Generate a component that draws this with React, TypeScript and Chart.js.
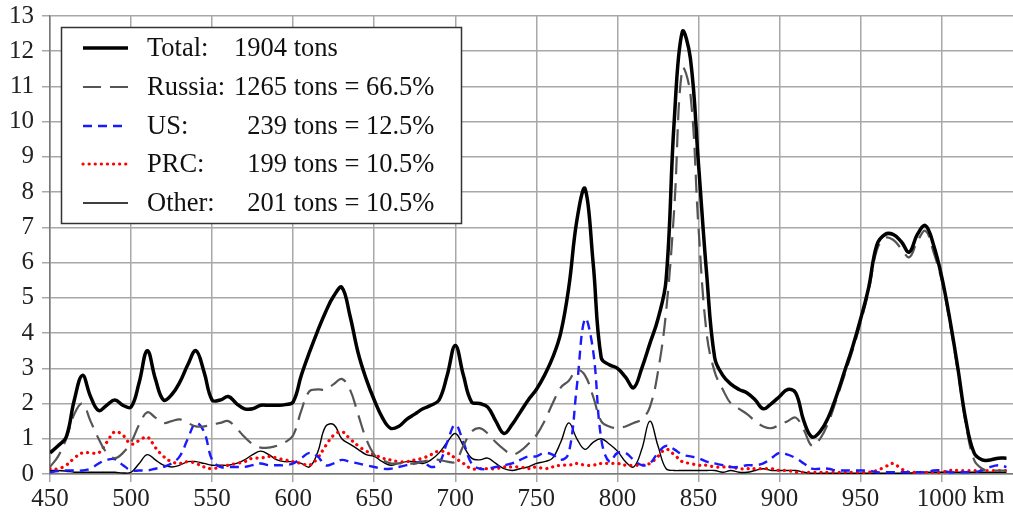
import React, { useEffect, useRef } from 'react';
import { Chart, registerables } from 'chart.js';

Chart.register(...registerables);

const km = [
  450, 455, 460, 465, 470, 475, 480, 485, 490, 495,
  500, 505, 510, 515, 520, 525, 530, 535, 540, 545,
  550, 555, 560, 565, 570, 575, 580, 585, 590, 595,
  600, 605, 610, 615, 620, 625, 630, 635, 640, 645,
  650, 655, 660, 665, 670, 675, 680, 685, 690, 695,
  700, 705, 710, 715, 720, 725, 730, 735, 740, 745,
  750, 755, 760, 765, 770, 775, 780, 785, 790, 795,
  800, 805, 810, 815, 820, 825, 830, 835, 840, 845,
  850, 855, 860, 865, 870, 875, 880, 885, 890, 895,
  900, 905, 910, 915, 920, 925, 930, 935, 940, 945,
  950, 955, 960, 965, 970, 975, 980, 985, 990, 995,
  1000, 1005, 1010, 1015, 1020, 1025, 1030, 1035, 1040,
];

const totalTons = [
  0.6, 0.8, 1.05, 2.1, 2.8, 2.2, 1.8, 1.95, 2.1, 1.95,
  1.9, 2.6, 3.5, 2.7, 2.1, 2.25, 2.6, 3.1, 3.5, 2.9,
  2.1, 2.1, 2.2, 2.0, 1.85, 1.85, 1.95, 1.95, 1.95, 1.97,
  2.05, 2.8, 3.45, 4.05, 4.6, 5.05, 5.3, 4.5, 3.45, 2.7,
  2.1, 1.6, 1.3, 1.35, 1.55, 1.7, 1.85, 1.95, 2.1, 2.8,
  3.65, 2.8, 2.05, 2.0, 1.9, 1.5, 1.15, 1.4, 1.75, 2.1,
  2.4, 2.8, 3.3, 4.0, 5.3, 7.2, 8.1, 6.0, 3.3, 3.1,
  3.0, 2.75, 2.45, 3.0, 3.7, 4.4, 5.5, 10.0, 12.55, 11.8,
  8.8, 5.7, 3.3, 2.8, 2.55, 2.4, 2.3, 2.1, 1.85, 2.0,
  2.2, 2.4, 2.3, 1.5, 1.05, 1.2, 1.6, 2.2, 2.9, 3.6,
  4.4, 5.3, 6.5, 6.8, 6.8, 6.6, 6.3, 6.8, 7.05, 6.5,
  5.6, 4.4, 3.0, 1.5, 0.6, 0.4, 0.4, 0.45, 0.45,
];

const russiaTons = [
  0.2, 0.5, 1.0, 1.7, 2.0, 1.5, 1.0, 0.6, 0.45, 0.6,
  0.9, 1.4, 1.75, 1.6, 1.45, 1.5, 1.55, 1.45, 1.35, 1.35,
  1.4, 1.45, 1.5, 1.3, 1.05, 0.85, 0.75, 0.75, 0.8, 0.9,
  1.1, 1.8, 2.35, 2.4, 2.4, 2.55, 2.7, 2.4, 1.7, 1.0,
  0.55, 0.4, 0.3, 0.3, 0.3, 0.3, 0.35, 0.4, 0.4, 0.35,
  0.35, 0.8, 1.2, 1.3, 1.15, 0.9, 0.7, 0.55, 0.65, 0.85,
  1.1, 1.5, 2.0, 2.45, 2.65, 2.95, 2.8, 2.2, 1.5, 1.35,
  1.3, 1.35, 1.45, 1.55, 1.9, 2.9, 4.6, 7.5, 11.5, 10.8,
  7.0, 4.0, 2.9, 2.4, 2.0, 1.85, 1.7, 1.5, 1.35, 1.3,
  1.4, 1.5, 1.6, 1.25, 0.8, 1.0, 1.45, 2.1, 2.8, 3.5,
  4.3, 5.2, 6.35, 6.7, 6.65, 6.4, 6.15, 6.6, 6.9, 6.3,
  5.5, 4.3, 2.9, 1.4, 0.4, 0.15, 0.1, 0.1, 0.1,
];

const usTons = [
  0.05, 0.08, 0.1, 0.1, 0.1, 0.15, 0.3, 0.4, 0.42, 0.25,
  0.1, 0.1, 0.1, 0.15, 0.2, 0.3, 0.5, 1.0, 1.45, 1.2,
  0.4, 0.2, 0.2, 0.2, 0.2, 0.25, 0.3, 0.25, 0.25, 0.25,
  0.3, 0.45, 0.6, 0.5, 0.25, 0.3, 0.4, 0.35, 0.3, 0.25,
  0.2, 0.15, 0.15, 0.2, 0.25, 0.3, 0.35, 0.2, 0.3, 0.9,
  1.4, 0.9, 0.3, 0.15, 0.15, 0.2, 0.25, 0.3, 0.4, 0.5,
  0.5, 0.6, 0.55, 0.4, 0.6, 2.5, 4.4, 3.5, 1.0, 0.35,
  0.6, 0.6, 0.4, 0.25, 0.3, 0.6, 0.8, 0.7, 0.55, 0.5,
  0.45, 0.35, 0.3, 0.25, 0.2, 0.2, 0.25, 0.25, 0.3, 0.45,
  0.6, 0.55, 0.45, 0.3, 0.15, 0.15, 0.15, 0.1, 0.1, 0.1,
  0.1, 0.1, 0.05, 0.05, 0.05, 0.05, 0.05, 0.05, 0.05, 0.1,
  0.1, 0.05, 0.05, 0.05, 0.05, 0.1, 0.2, 0.25, 0.2,
];

const prcTons = [
  0.15, 0.15, 0.25, 0.45, 0.6, 0.6, 0.6, 0.9, 1.2, 1.1,
  0.85, 0.95, 1.05, 0.75, 0.5, 0.35, 0.3, 0.35, 0.3, 0.2,
  0.15, 0.2, 0.25, 0.3, 0.35, 0.45, 0.45, 0.5, 0.45, 0.4,
  0.35, 0.3, 0.25, 0.45, 0.8, 1.1, 1.2, 1.0, 0.8, 0.65,
  0.55, 0.45, 0.4, 0.35, 0.35, 0.4, 0.45, 0.55, 0.65, 0.6,
  0.45, 0.3, 0.15, 0.15, 0.15, 0.15, 0.2, 0.2, 0.2, 0.15,
  0.2, 0.15, 0.2, 0.25, 0.25, 0.3, 0.25, 0.25, 0.3, 0.3,
  0.3, 0.25, 0.25, 0.25, 0.3, 0.5, 0.7, 0.55, 0.35, 0.3,
  0.25, 0.25, 0.2, 0.2, 0.2, 0.15, 0.15, 0.15, 0.15, 0.15,
  0.1, 0.1, 0.05, 0.05, 0.05, 0.05, 0.05, 0.05, 0.05, 0.05,
  0.05, 0.05, 0.1, 0.2, 0.3, 0.15, 0.05, 0.05, 0.05, 0.05,
  0.05, 0.1, 0.1, 0.1, 0.1, 0.1, 0.1, 0.1, 0.1,
];

const otherTons = [
  0.1, 0.1, 0.08, 0.05, 0.05, 0.05, 0.05, 0.05, 0.05, 0.03,
  0.05, 0.3, 0.55, 0.4, 0.25, 0.2, 0.25, 0.35, 0.35, 0.3,
  0.25, 0.25, 0.25, 0.3, 0.4, 0.55, 0.65, 0.55, 0.4, 0.35,
  0.35, 0.3, 0.2, 0.6, 1.35, 1.4, 1.0, 0.85, 0.7, 0.55,
  0.5, 0.35, 0.25, 0.3, 0.35, 0.35, 0.3, 0.4, 0.6, 0.9,
  1.15, 0.8, 0.45, 0.4, 0.45, 0.3, 0.15, 0.1, 0.15, 0.2,
  0.3, 0.35, 0.45, 0.9, 1.45, 1.0, 0.7, 0.9, 1.0, 0.85,
  0.65, 0.35, 0.2, 0.7, 1.5, 0.8, 0.15, 0.1, 0.1, 0.1,
  0.1, 0.1, 0.1, 0.05, 0.1, 0.05, 0.05, 0.1, 0.15, 0.1,
  0.1, 0.1, 0.1, 0.05, 0.02, 0.02, 0.02, 0.02, 0.02, 0.02,
  0.02, 0.02, 0.02, 0.02, 0.02, 0.02, 0.02, 0.05, 0.05, 0.05,
  0.05, 0.05, 0.05, 0.05, 0.05, 0.05, 0.05, 0.05, 0.05,
];

const xTicks = [450, 500, 550, 600, 650, 700, 750, 800, 850, 900, 950, 1000];
const yTicks = [0, 1, 2, 3, 4, 5, 6, 7, 8, 9, 10, 11, 12, 13];

const legendNames = ['Total:', 'Russia:', 'US:', 'PRC:', 'Other:'];
const legendAmounts = ['1904', '1265', '239', '199', '201'];
const legendRest = [' tons', ' tons = 66.5%', ' tons = 12.5%', ' tons = 10.5%', ' tons = 10.5%'];

const SERIF = '"Liberation Serif", "Times New Roman", serif';

const styles = [
  { color: '#000000', width: 3.5, dash: [] as number[], cap: 'butt' },
  { color: '#555555', width: 2.2, dash: [18, 9], cap: 'butt' },
  { color: '#1a1aff', width: 2.4, dash: [9, 6], cap: 'butt' },
  { color: '#ff0000', width: 3.2, dash: [0.1, 6], cap: 'round' },
  { color: '#000000', width: 1.4, dash: [] as number[], cap: 'butt' },
];

const seriesList = [totalTons, russiaTons, usTons, prcTons, otherTons];

const overlayPlugin = {
  id: 'overlay',
  afterDraw(chart: any) {
    const ctx = chart.ctx as CanvasRenderingContext2D;
    const xs = chart.scales.x;
    ctx.save();
    ctx.font = `25px ${SERIF}`;
    ctx.fillStyle = '#222';
    ctx.textBaseline = 'top';
    ctx.textAlign = 'left';
    ctx.fillText('km', xs.getPixelForValue(1000) + 31, xs.top + 10);

    const bx = 61, by = 27, bw = 400, bh = 196;
    ctx.fillStyle = '#ffffff';
    ctx.fillRect(bx, by, bw, bh);
    ctx.strokeStyle = '#333';
    ctx.lineWidth = 1.5;
    ctx.setLineDash([]);
    ctx.strokeRect(bx + 0.5, by + 0.5, bw, bh);
    ctx.font = `26.5px ${SERIF}`;
    ctx.textBaseline = 'middle';
    const rowY = [48, 87, 126, 164, 203];
    legendNames.forEach((name, i) => {
      const s = styles[i];
      const y = rowY[i];
      ctx.beginPath();
      ctx.strokeStyle = s.color;
      ctx.lineWidth = s.width;
      ctx.setLineDash(s.dash);
      ctx.lineCap = s.cap as CanvasLineCap;
      ctx.moveTo(83, y);
      ctx.lineTo(128, y);
      ctx.stroke();
      ctx.setLineDash([]);
      ctx.lineCap = 'butt';
      ctx.fillStyle = '#111';
      ctx.textAlign = 'left';
      ctx.fillText(name, 147, y + 1);
      ctx.textAlign = 'right';
      ctx.fillText(legendAmounts[i], 287, y + 1);
      ctx.textAlign = 'left';
      ctx.fillText(legendRest[i], 287, y + 1);
    });
    ctx.restore();
  },
};

export default function App() {
  const ref = useRef<HTMLCanvasElement | null>(null);
  useEffect(() => {
    if (!ref.current) return;
    const chart = new Chart(ref.current, {
      type: 'line',
      data: {
        datasets: seriesList.map((ys, i) => ({
          label: legendNames[i],
          data: km.map((x, j) => ({ x, y: ys[j] })),
          borderColor: styles[i].color,
          borderWidth: styles[i].width,
          borderDash: styles[i].dash,
          borderCapStyle: styles[i].cap as CanvasLineCap,
          borderJoinStyle: 'round' as CanvasLineJoin,
          pointRadius: 0,
          fill: false,
          tension: 0.4,
        })),
      },
      options: {
        animation: false,
        responsive: false,
        layout: { padding: { top: 16, left: 0, right: 0, bottom: 0 } },
        plugins: { legend: { display: false }, tooltip: { enabled: false } },
        scales: {
          x: {
            type: 'linear',
            min: 450,
            max: 1044,
            afterBuildTicks: (s: any) => {
              s.ticks = xTicks.map((v) => ({ value: v }));
            },
            afterFit: (s: any) => {
              s.height = 38;
            },
            ticks: {
              font: { family: SERIF, size: 25 },
              color: '#222',
              padding: 2,
              maxRotation: 0,
              autoSkip: false,
              callback: (v: any) => String(v),
            },
            grid: { color: '#a8a8a8', lineWidth: 1.5, tickLength: 8 },
            border: { color: '#777', width: 1.5 },
          },
          y: {
            min: 0,
            max: 13,
            afterBuildTicks: (s: any) => {
              s.ticks = yTicks.map((v) => ({ value: v }));
            },
            afterFit: (s: any) => {
              s.width = 50;
            },
            ticks: {
              font: { family: SERIF, size: 25, lineHeight: 0.6 },
              color: '#222',
              padding: 8,
              autoSkip: false,
              callback: (v: any) => String(v),
            },
            grid: { color: '#a8a8a8', lineWidth: 1.5, tickLength: 8 },
            border: { color: '#777', width: 1.5 },
          },
        },
      },
      plugins: [overlayPlugin],
    });
    return () => chart.destroy();
  }, []);
  return (
    <div style={{ position: 'fixed', left: 0, top: 0, width: 1013, height: 512, background: '#fff' }}>
      <canvas ref={ref} width={1013} height={512} />
    </div>
  );
}
